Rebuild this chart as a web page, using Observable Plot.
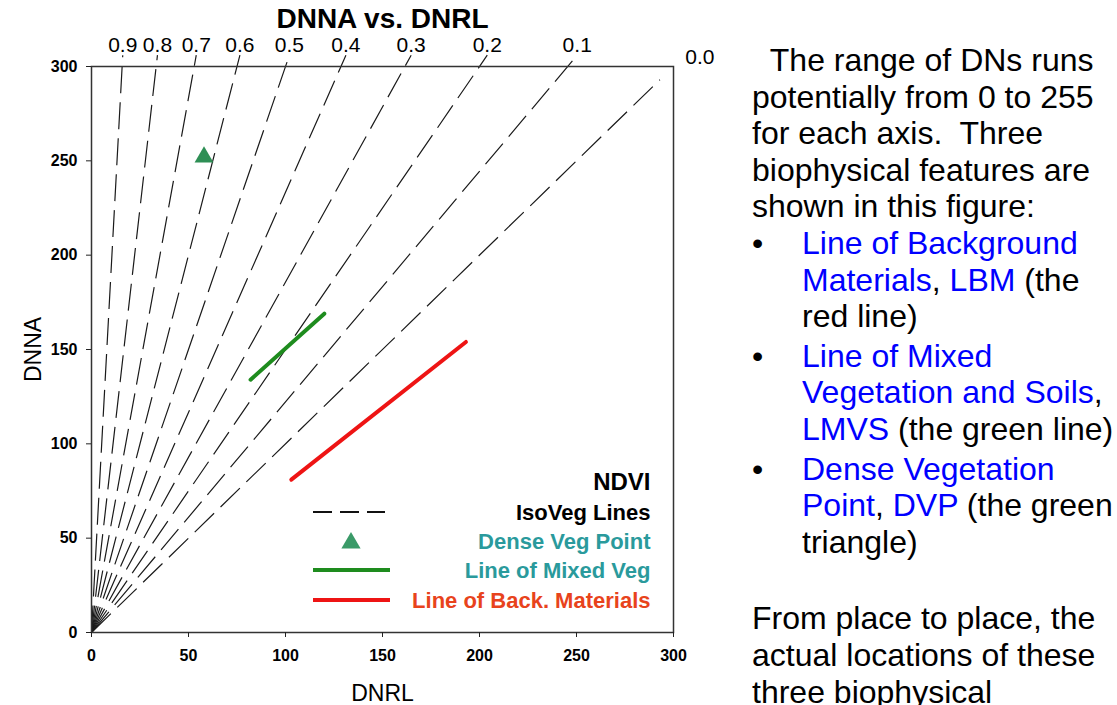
<!DOCTYPE html>
<html>
<head>
<meta charset="utf-8">
<script src="https://cdn.jsdelivr.net/npm/d3@7"></script>
<script src="https://cdn.jsdelivr.net/npm/@observablehq/plot@0.6"></script>
<style>
  body { margin: 0; background: #fff; }
  #wrap { position: relative; width: 1117px; height: 705px; overflow: hidden; background: #fff; }
  #chart { position: absolute; left: 0; top: 0; }
  #side {
    position: absolute; left: 752px; top: 42px;
    font-family: "Liberation Sans", Arial, sans-serif;
    font-size: 32px; line-height: 36.6px; color: #000; white-space: nowrap;
  }
  #side .blue { color: #0000ff; }
  #side .item { position: relative; padding-left: 50px; margin-top: 3px; }
  #side .item .bul { position: absolute; left: 0; top: 0; }
  #side .gap { margin-top: 40px; }
</style>
</head>
<body>
<div id="wrap">
  <div id="chart"></div>
  <div id="side">
    <div>&nbsp;&nbsp;The range of DNs runs</div>
    <div>potentially from 0 to 255</div>
    <div>for each axis.&nbsp; Three</div>
    <div>biophysical features are</div>
    <div>shown in this figure:</div>
    <div class="item" style="margin-top:0"><span class="bul">•</span><span class="blue">Line of Background</span><br><span class="blue">Materials</span>, <span class="blue">LBM</span> (the<br>red line)</div>
    <div class="item"><span class="bul">•</span><span class="blue">Line of Mixed</span><br><span class="blue">Vegetation and Soils</span>,<br><span class="blue">LMVS</span> (the green line)</div>
    <div class="item"><span class="bul">•</span><span class="blue">Dense Vegetation</span><br><span class="blue">Point</span>, <span class="blue">DVP</span> (the green<br>triangle)</div>
    <div class="gap">From place to place, the</div>
    <div>actual locations of these</div>
    <div>three biophysical</div>
  </div>
</div>
<script>
// ---- data ----
const xTicks = [0, 50, 100, 150, 200, 250, 300];
const yTicks = [0, 50, 100, 150, 200, 250, 300];
const ndviValues = [0.9, 0.8, 0.7, 0.6, 0.5, 0.4, 0.3, 0.2, 0.1, 0.0];
const isoTopNA = [306, 306, 306, 306, 306, 306, 306, 306, 306, 293];
const denseRL = [58];
const denseNA = [252];
const lmvsRL = [82, 120];
const lmvsNA = [134, 169];
const lbmRL = [103, 193];
const lbmNA = [81, 154];
const legendTitle = "NDVI";
const legendLabels = ["IsoVeg Lines", "Dense Veg Point", "Line of Mixed Veg", "Line of Back. Materials"];
const legendColors = ["#000000", "#2a9a9c", "#2a9a9c", "#e8431c"];

// ---- derived tables ----
// isoline: DNNA = DNRL * (1 + ndvi) / (1 - ndvi)
const iso = ndviValues.map((n, i) => ({
  n, na: isoTopNA[i], rl: isoTopNA[i] * (1 - n) / (1 + n), label: n.toFixed(1)
}));
const dense = denseRL.map((rl, i) => ({rl, na: denseNA[i]}));
const lmvs = lmvsRL.map((rl, i) => ({rl, na: lmvsNA[i]}));
const lbm = lbmRL.map((rl, i) => ({rl, na: lbmNA[i]}));

const greenLine = "#1e8c1e", redLine = "#ee1414", triFill = "#2e8f55";
const legendRowDy = [-120, -91, -62, -32];
const tickFont = "'Liberation Sans Narrow', 'Arial Narrow', 'Liberation Sans', Arial, sans-serif";

const legendSymbols = (index, scales, values, dims) => {
  const right = dims.width - dims.marginRight;
  const bottom = dims.height - dims.marginBottom;
  const g = d3.create("svg:g").attr("aria-label", "legend symbols");
  g.append("line")
    .attr("x1", right - 360).attr("x2", right - 288)
    .attr("y1", bottom + legendRowDy[0]).attr("y2", bottom + legendRowDy[0])
    .attr("stroke", "#111").attr("stroke-width", 2).attr("stroke-dasharray", "19,8");
  g.append("path")
    .attr("d", d3.symbol(d3.symbolTriangle, 160)())
    .attr("transform", `translate(${right - 322},${bottom + legendRowDy[1] + 2})`)
    .attr("fill", "#3a9a68");
  g.append("line")
    .attr("x1", right - 360).attr("x2", right - 283)
    .attr("y1", bottom + legendRowDy[2]).attr("y2", bottom + legendRowDy[2])
    .attr("stroke", greenLine).attr("stroke-width", 4);
  g.append("line")
    .attr("x1", right - 360).attr("x2", right - 283)
    .attr("y1", bottom + legendRowDy[3]).attr("y2", bottom + legendRowDy[3])
    .attr("stroke", redLine).attr("stroke-width", 4);
  return g.node();
};

const chart = Plot.plot({
  width: 740,
  height: 705,
  marginLeft: 91,
  marginRight: 67,
  marginTop: 66,
  marginBottom: 73,
  x: {domain: [0, 300]},
  y: {domain: [0, 300]},
  style: {fontFamily: "'Liberation Sans', Arial, sans-serif", background: "transparent", overflow: "visible", color: "#000"},
  marks: [
    Plot.link(iso, {x1: () => 0, y1: () => 0, x2: "rl", y2: "na", stroke: "#1a1a1a", strokeWidth: 1.2, strokeDasharray: "27,9"}),
    Plot.frame({stroke: "#333", strokeWidth: 1.5}),
    Plot.axisX({ticks: xTicks, tickSize: 5, tickPadding: 12, label: null, fontWeight: "bold", fontSize: 16, fontFamily: tickFont, stroke: "#222"}),
    Plot.axisY({ticks: yTicks, tickSize: 5, tickPadding: 9, label: null, fontWeight: "bold", fontSize: 16, fontFamily: tickFont, stroke: "#222"}),
    Plot.text(iso.filter(d => d.n > 0), {x: "rl", y: "na", text: "label", dy: -10, fontSize: 21, lineAnchor: "middle"}),
    Plot.text(iso.filter(d => d.n === 0), {x: "rl", y: "na", text: "label", dx: 40, dy: -22, fontSize: 21, lineAnchor: "middle"}),
    Plot.line(lmvs, {x: "rl", y: "na", stroke: greenLine, strokeWidth: 4}),
    Plot.line(lbm, {x: "rl", y: "na", stroke: redLine, strokeWidth: 4}),
    Plot.dot(dense, {x: "rl", y: "na", symbol: "triangle", r: 7, fill: triFill, stroke: "none"}),
    Plot.text([legendTitle], {frameAnchor: "bottom-right", dx: -23, dy: -150, textAnchor: "end", lineAnchor: "middle", fontSize: 24, fontWeight: "bold"}),
    ...legendLabels.map((lab, i) => Plot.text([lab], {frameAnchor: "bottom-right", dx: -23, dy: legendRowDy[i], textAnchor: "end", lineAnchor: "middle", fontSize: 22, fontWeight: "bold", fill: legendColors[i]})),
    legendSymbols,
    Plot.text(["DNNA vs. DNRL"], {frameAnchor: "top", dy: -47, textAnchor: "middle", lineAnchor: "middle", fontSize: 28, fontWeight: "bold"}),
    Plot.text(["DNRL"], {frameAnchor: "bottom", dy: 61, textAnchor: "middle", lineAnchor: "middle", fontSize: 23}),
    Plot.text(["DNNA"], {frameAnchor: "left", dx: -58, rotate: -90, textAnchor: "middle", lineAnchor: "middle", fontSize: 23})
  ]
});
document.getElementById("chart").appendChild(chart);
</script>
</body>
</html>
